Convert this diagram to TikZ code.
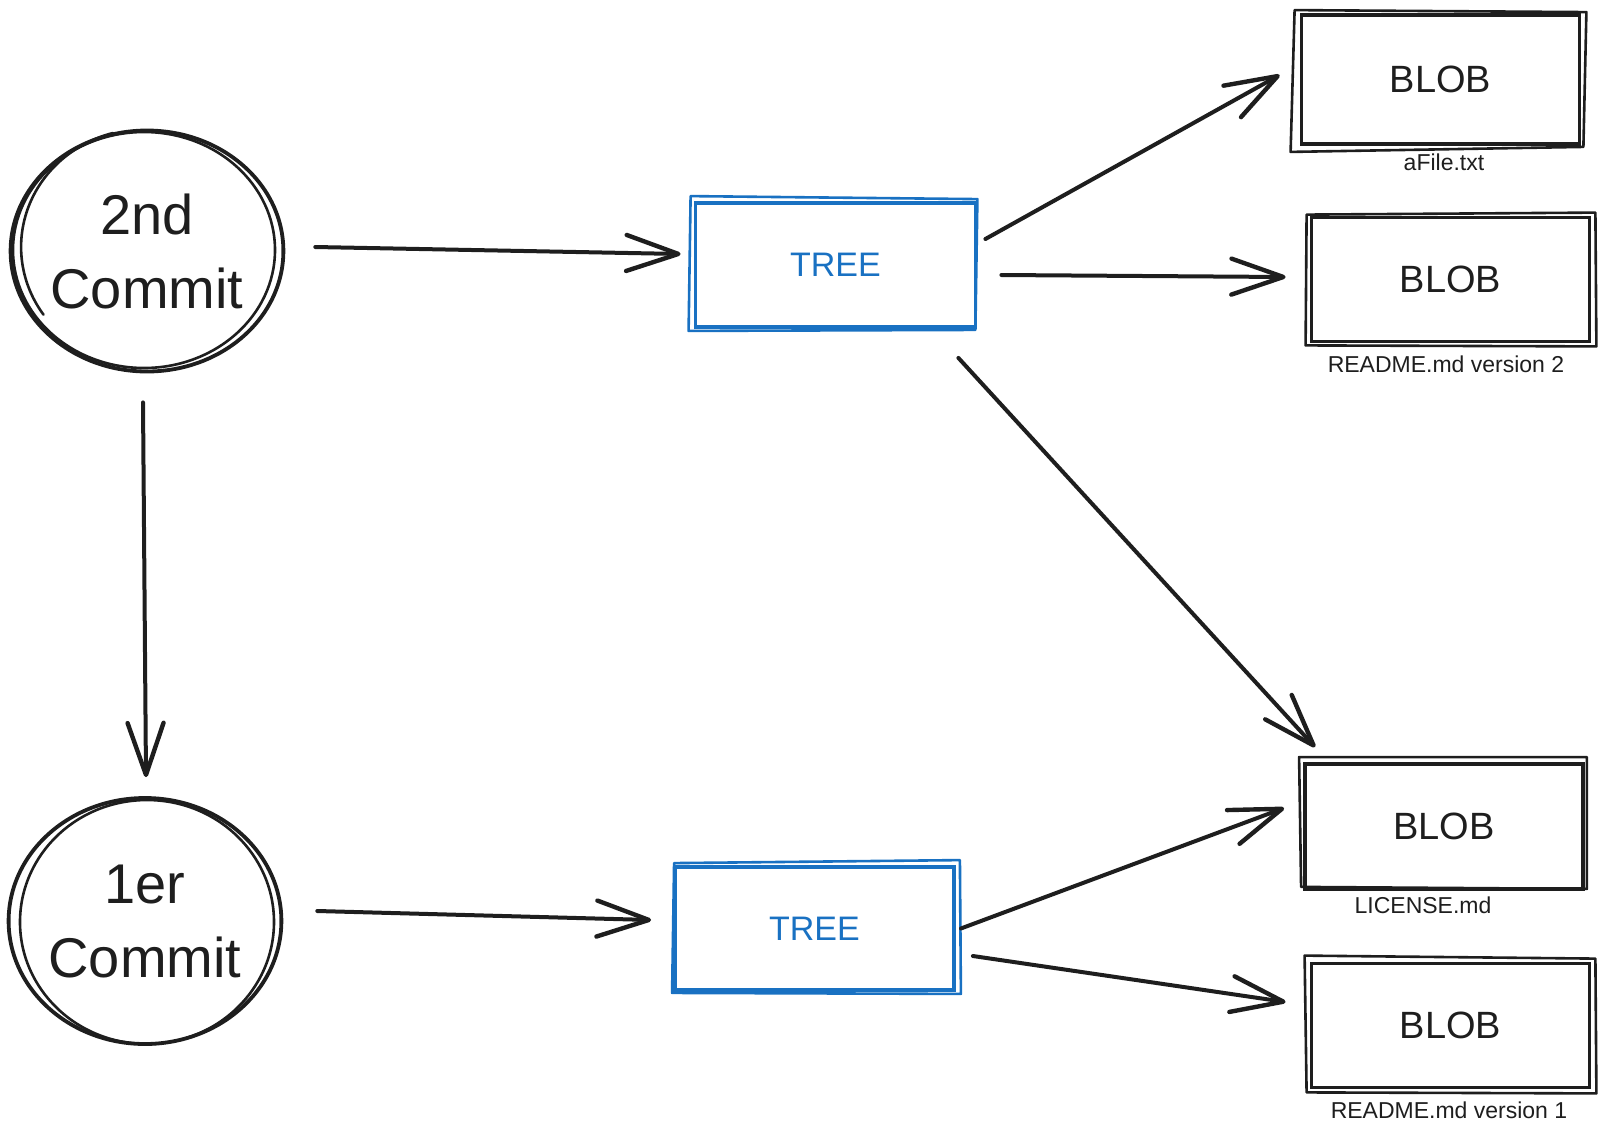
\documentclass[tikz,border=0pt]{standalone}
\usepackage{fontspec}
\setmainfont{Liberation Sans}
\usetikzlibrary{arrows.meta,calc,shapes.geometric}
\definecolor{ink}{HTML}{1E1E1E}
\definecolor{treeblue}{HTML}{1971C2}
\tikzset{
  commit/.style={ellipse, draw=ink, line width=1.9pt, inner sep=0pt,
    align=center, font=\fontsize{28}{37}\selectfont, text=ink},
  treebox/.style={rectangle, draw=treeblue, line width=1.9pt, inner sep=0pt,
    font=\fontsize{17}{20}\selectfont, text=treeblue,
    minimum width=140pt, minimum height=62pt},
  blobbox/.style={rectangle, draw=ink, line width=1.9pt, inner sep=0pt,
    font=\fontsize{19}{22}\selectfont, text=ink,
    minimum width=139pt, minimum height=62pt},
  filename/.style={font=\fontsize{11.5}{13}\selectfont, text=ink, inner sep=0pt},
  sk/.style={draw=ink, line width=1.3pt, line cap=round, line join=round},
  skblue/.style={draw=treeblue, line width=1.3pt, line cap=round, line join=round},
  arr/.style={draw=ink, line width=2pt, line cap=round,
    -{Straight Barb[length=26pt,width=18pt,line width=2.2pt,round]}},
  twin/.style={draw=ink, line width=1.2pt, line cap=round},
}
\begin{document}
\begin{tikzpicture}[x=0.5pt,y=-0.5pt]
\useasboundingbox (0,0) rectangle (1608,1147);

% commits
\node[commit, minimum width=129pt, minimum height=120.5pt] (c2) at (147,251) {2nd\\Commit};
\node[commit, minimum width=128.5pt, minimum height=123pt] (c1) at (145,921) {1er\\Commit};

% trees
\node[treebox] (t2) at (835.5,265) {TREE};
\node[treebox, minimum width=139.5pt, minimum height=61.5pt] (t1) at (814.5,928.5) {TREE};

% blobs
\node[blobbox, minimum height=64.5pt] (b1) at (1440.5,79.5) {BLOB};
\node[blobbox] (b2) at (1450.5,279.5) {BLOB};
\node[blobbox, minimum height=62.5pt] (b3) at (1444,826.5) {BLOB};
\node[blobbox] (b4) at (1450.5,1025.5) {BLOB};

% file names
\node[filename] (n1) at (1444,162) {aFile.txt};
\node[filename] (n2) at (1446,364) {README.md version 2};
\node[filename] (n3) at (1423,905) {LICENSE.md};
\node[filename] (n4) at (1449,1110) {README.md version 1};

% second, slightly wobbly strokes
\draw[sk] ($(c2.center)+(-3,-1)$) ellipse [x radius=65.5pt, y radius=59pt];
\draw[sk] ($(c2.center)+(-34,-118)$) arc [start angle=105, end angle=215, x radius=62pt, y radius=59pt];
\draw[sk] ($(c1.center)+(2,1)$) ellipse [x radius=63.5pt, y radius=61pt];

\draw[skblue] ($(t2.north west)+(-3,-5)$) -- ($(t2.north east)+(0,-2)$) -- ($(t2.south east)+(-2,1)$) -- ($(t2.south west)+(-5,2)$) -- cycle;
\draw[skblue] ($(t1.north west)+(1,-2)$) -- ($(t1.north east)+(4,-5)$) -- ($(t1.south east)+(5,2)$) -- ($(t1.south west)+(-1,1)$) -- cycle;

\draw[sk] ($(b1.north west)+(-5,-3)$) -- ($(b1.north east)+(5,-1)$) -- ($(b1.south east)+(2,1)$) -- ($(b1.south west)+(-9,6)$) -- cycle;
\draw[sk] ($(b2.north west)+(-3,-1)$) -- ($(b2.north east)+(4,-3)$) -- ($(b2.south east)+(5,3)$) -- ($(b2.south west)+(-4,2)$) -- cycle;
\draw[sk] ($(b3.north west)+(-4,-5)$) -- ($(b3.north east)+(2,-5)$) -- ($(b3.south east)+(2,-2)$) -- ($(b3.south west)+(-2,-4)$) -- cycle;
\draw[sk] ($(b4.north west)+(-5,-6)$) -- ($(b4.north east)+(4,-3)$) -- ($(b4.south east)+(5,4)$) -- ($(b4.south west)+(-3,3)$) -- cycle;

% connector end points
\coordinate (a1s) at ($(c2.east)+(30,-4)$);
\coordinate (a1e) at ($(t2.west)+(-13,-11)$);
\coordinate (a2s) at ($(c2.south)+(-4,29)$);
\coordinate (a2e) at ($(c1.north)+(1,-19)$);
\coordinate (a3s) at ($(c1.east)+(34,-10)$);
\coordinate (a3e) at ($(t1.west)+(-22,-8.5)$);
\coordinate (a4s) at ($(t2.east)+(8,-26)$);
\coordinate (a4e) at ($(b1.west)+(-20,-4.5)$);
\coordinate (a5s) at ($(t2.east)+(24,10)$);
\coordinate (a5e) at ($(b2.west)+(-24,-2.5)$);
\coordinate (a6s) at ($(t2.south east)+(-19,29)$);
\coordinate (a6e) at ($(b3.north west)+(12,-15)$);
\coordinate (a7s) at ($(t1.east)+(5,0)$);
\coordinate (a7e) at ($(b3.west)+(-19,-18.5)$);
\coordinate (a8s) at ($(t1.east)+(17,27.5)$);
\coordinate (a8e) at ($(b4.west)+(-24,-23.5)$);

% connectors
\draw[arr] (a1s) -- (a1e);
\draw[twin, yshift=2.6pt, shorten >=34pt] (a1s) -- (a1e);
\draw[arr] (a2s) -- (a2e);
\draw[arr] (a3s) -- (a3e);
\draw[twin, yshift=2.6pt, shorten >=30pt] (a3s) -- (a3e);
\draw[arr] (a4s) -- (a4e);
\draw[twin, xshift=-1.6pt, yshift=-2.4pt, shorten >=20pt] (a4s) -- (a4e);
\draw[arr] (a5s) -- (a5e);
\draw[twin, yshift=2.6pt, shorten >=36pt] (a5s) -- (a5e);
\draw[arr] (a6s) -- (a6e);
\draw[arr] (a7s) -- (a7e);
\draw[twin, yshift=2.6pt, shorten >=22pt] (a7s) -- (a7e);
\draw[arr] (a8s) -- (a8e);
\draw[twin, yshift=2.6pt, shorten >=26pt] (a8s) -- (a8e);
\end{tikzpicture}
\end{document}
